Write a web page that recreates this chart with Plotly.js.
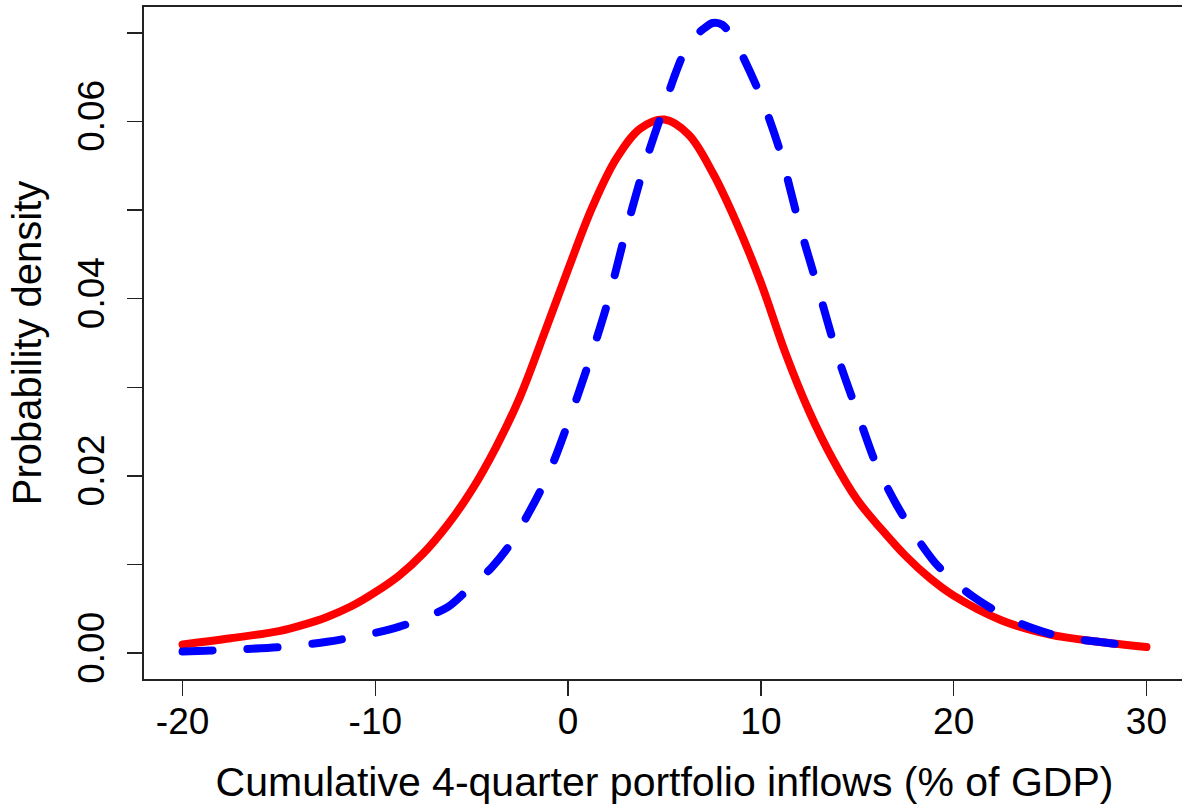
<!DOCTYPE html>
<html>
<head>
<meta charset="utf-8">
<script src="https://cdn.plot.ly/plotly-3.0.1.min.js"></script>
<style>
html,body{margin:0;padding:0;overflow:hidden;background:#fff;}
#chart{width:1190px;height:806px;}
</style>
</head>
<body>
<div id="chart"></div>
<script>
// Red (solid) density curve
const redX = [-20, -17.5, -15, -13.75, -12.5, -11.25, -10, -8.75, -7.5, -6.25, -5, -3.75, -2.5, -1.25, 0, 1.25, 2.5, 3.75, 5, 6.25, 7.5, 8.75, 10, 11.25, 12.5, 13.75, 15, 16.25, 17.5, 18.75, 20, 22.5, 25, 27.5, 30];
const redY = [0.0010, 0.0017, 0.0025, 0.0032, 0.0041, 0.0053, 0.0069, 0.0088, 0.0113, 0.0145, 0.0184, 0.0232, 0.0289, 0.0360, 0.0433, 0.0503, 0.0558, 0.0592, 0.0602, 0.0585, 0.0542, 0.0485, 0.0418, 0.0340, 0.0273, 0.0218, 0.0173, 0.0140, 0.0110, 0.0085, 0.0065, 0.0037, 0.0021, 0.0013, 0.0007];

// Blue (dashed) density curve
const blueX = [-20, -17.5, -15, -12.5, -10, -8.75, -7.5, -6.25, -5, -4, -3, -2, -1, 0, 1, 2, 3, 4, 5, 5.5, 6, 6.5, 7, 7.5, 8, 8.5, 9, 10, 11, 12, 13, 14, 15, 16, 17, 18, 19, 20, 21, 22, 23, 24, 25, 26, 27.5, 29, 30];
const blueY = [0.0002, 0.0004, 0.0007, 0.0013, 0.0023, 0.0030, 0.0040, 0.0052, 0.0076, 0.0096, 0.0123, 0.0160, 0.0203, 0.0260, 0.0323, 0.0392, 0.0476, 0.0553, 0.0618, 0.0650, 0.0677, 0.0694, 0.0704, 0.0711, 0.0709, 0.0696, 0.0676, 0.0628, 0.0566, 0.0483, 0.0409, 0.0334, 0.0272, 0.0212, 0.0169, 0.0133, 0.0103, 0.0081, 0.0064, 0.0050, 0.0038, 0.0029, 0.0022, 0.0017, 0.0013, 0.0009, 0.0007];

const xTickVals = [-20, -10, 0, 10, 20, 30];
const yTickVals = [0, 0.02, 0.04, 0.06];
const xTitle = "Cumulative 4-quarter portfolio inflows (% of GDP)";
const yTitle = "Probability density";

const FONT = "Liberation Sans, Arial, sans-serif";

const traces = [
  {x: redX, y: redY, type: 'scatter', mode: 'lines', name: 'red',
   line: {color: '#ff0000', width: 8, shape: 'spline', smoothing: 1}, hoverinfo: 'skip'},
  {x: blueX, y: blueY, type: 'scatter', mode: 'lines', name: 'blue',
   line: {color: '#0000ff', width: 8, shape: 'spline', smoothing: 0.8, dash: '30px,35px'}, hoverinfo: 'skip'}
];

const layout = {
  width: 1190, height: 806,
  margin: {l: 144, r: 5, t: 7, b: 127},
  paper_bgcolor: '#fff', plot_bgcolor: '#fff',
  showlegend: false,
  font: {family: FONT, color: '#000'},
  xaxis: {
    range: [-22, 32], tickvals: xTickVals, ticktext: xTickVals.map(String),
    ticks: 'outside', ticklen: 15, tickwidth: 1.6, tickcolor: '#222',
    showline: true, mirror: true, linecolor: '#222', linewidth: 1.6,
    showgrid: false, zeroline: false,
    tickfont: {family: FONT, size: 37, color: '#000'},
    ticklabelstandoff: -6,
    title: {text: xTitle, font: {family: FONT, size: 41, color: '#000'}, standoff: 26}
  },
  yaxis: {
    range: [-0.0029, 0.0729], tickvals: yTickVals, tickformat: '.2f',
    tickangle: -90,
    ticks: 'outside', ticklen: 15, tickwidth: 1.6, tickcolor: '#222',
    minor: {dtick: 0.01, tick0: 0, ticks: 'outside', ticklen: 15, tickwidth: 1.6, tickcolor: '#222', showgrid: false},
    showline: true, mirror: true, linecolor: '#222', linewidth: 1.6,
    showgrid: false, zeroline: false,
    tickfont: {family: FONT, size: 37, color: '#000'},
    ticklabelstandoff: 9,
    title: {text: yTitle, font: {family: FONT, size: 40, color: '#000'}, standoff: 16}
  }
};

Plotly.newPlot('chart', traces, layout, {staticPlot: true, displayModeBar: false}).then(function(){
  document.querySelectorAll('.scatterlayer path.js-line').forEach(function(p){
    p.style.strokeLinecap = 'round';
    p.style.strokeLinejoin = 'round';
  });
});
</script>
</body>
</html>
